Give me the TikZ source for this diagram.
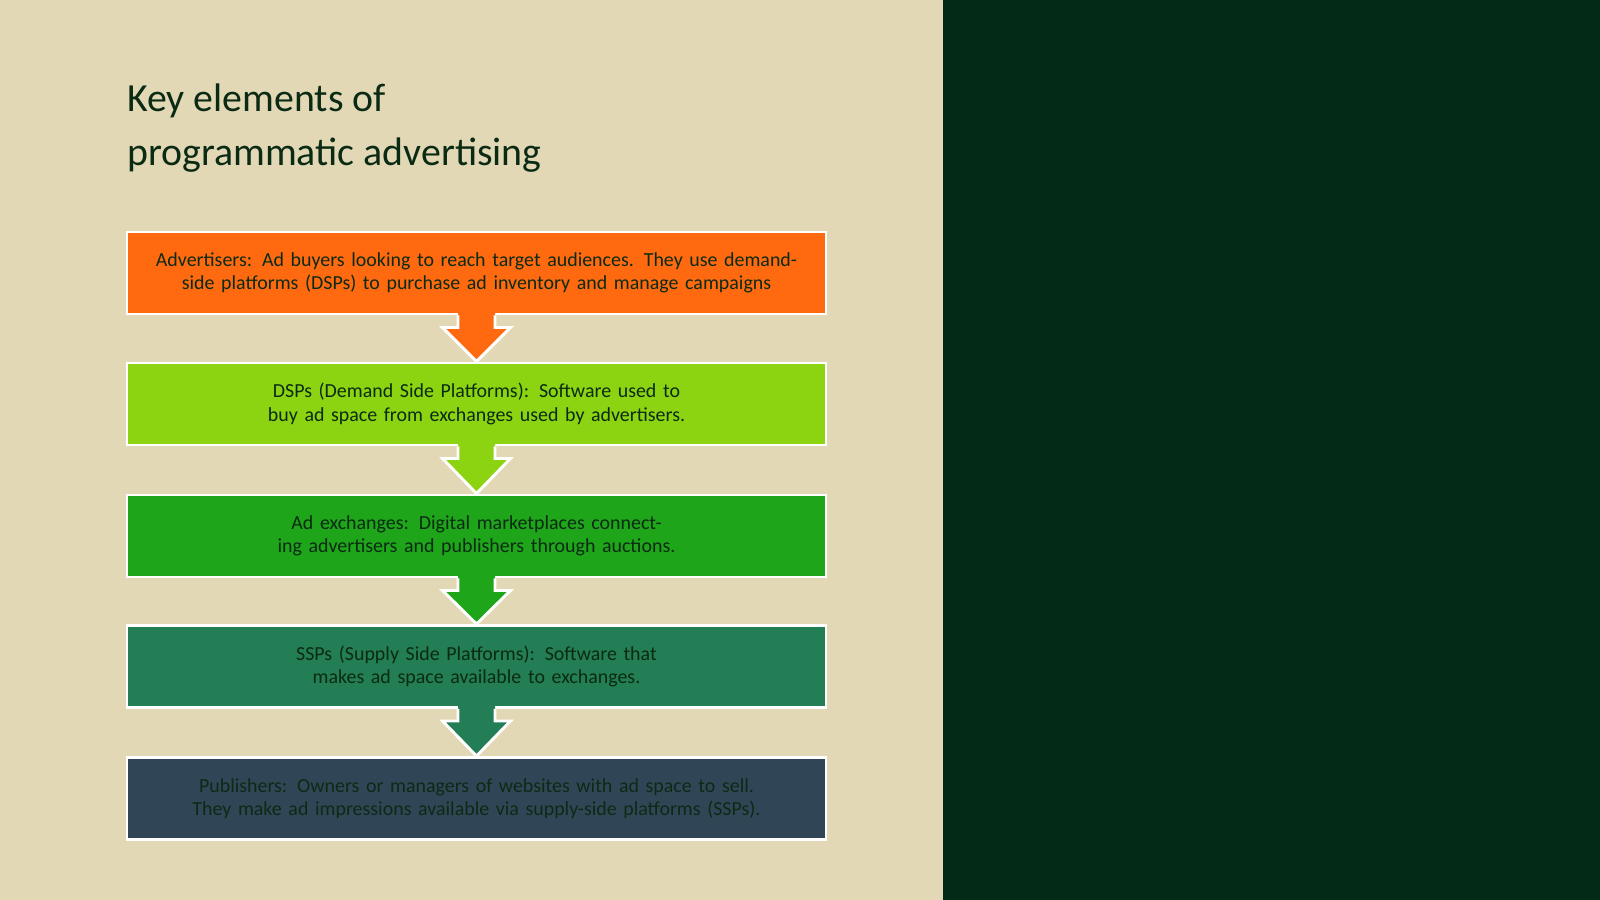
\documentclass[tikz,border=0pt]{standalone}
\usepackage{fontspec}
\setmainfont{Carlito}
\usetikzlibrary{calc}
\definecolor{beige}{HTML}{E2D8B5}
\definecolor{darkbg}{HTML}{032A16}
\definecolor{titlecol}{HTML}{0B2A14}
\definecolor{cA}{HTML}{FF6A10}
\definecolor{cB}{HTML}{8CD411}
\definecolor{cC}{HTML}{1EA51A}
\definecolor{cD}{HTML}{237E55}
\definecolor{cE}{HTML}{304656}
\tikzset{
  stagebox/.style={draw=white, line width=2.5pt, minimum width=20.97cm, minimum height=2.46cm,
    text width=19.8cm, align=center, font=\fontsize{17}{20}\selectfont, text=titlecol, inner sep=0pt},
}
\begin{document}
\begin{tikzpicture}[x=0.03cm, y=-0.03cm]
  \fill[beige] (0,0) rectangle (943,900);
  \fill[darkbg] (943,0) rectangle (1600,900);
  \node[anchor=north west, align=left, text=titlecol, font=\fontsize{34}{46}\selectfont] (title) at (123,80)
    {Key elements of\\programmatic advertising};
  \node[stagebox, fill=cA] (b1) at (476.5,273) {Advertisers: Ad buyers looking to reach target audiences. They use demand-side platforms (DSPs) to purchase ad inventory and manage campaigns};
  \node[stagebox, fill=cB] (b2) at (476.5,404) {DSPs (Demand Side Platforms): Software used to buy ad space from exchanges used by advertisers.};
  \node[stagebox, fill=cC] (b3) at (476.5,536) {Ad exchanges: Digital marketplaces connecting advertisers and publishers through auctions.};
  \node[stagebox, fill=cD] (b4) at (476.5,666.5) {SSPs (Supply Side Platforms): Software that makes ad space available to exchanges.};
  \node[stagebox, fill=cE] (b5) at (476.5,798.5) {Publishers: Owners or managers of websites with ad space to sell. They make ad impressions available via supply-side platforms (SSPs).};
  % arrows between the stages
  \foreach \a/\b/\c in {b1/b2/cA, b2/b3/cB, b3/b4/cC, b4/b5/cD}{
    \coordinate (s) at (\a.south);
    \coordinate (t) at (\b.north);
    \fill[\c] ($(s)+(-18.5,-4)$) -- ($(s)+(-18.5,12)$) -- ($(s)+(-34,12)$) -- (t)
      -- ($(s)+(34,12)$) -- ($(s)+(18.5,12)$) -- ($(s)+(18.5,-4)$) -- cycle;
    \draw[white, line width=2.5pt, line join=miter] ($(s)+(-18.5,0)$) -- ($(s)+(-18.5,12)$) -- ($(s)+(-34,12)$) -- (t)
      -- ($(s)+(34,12)$) -- ($(s)+(18.5,12)$) -- ($(s)+(18.5,0)$);
  }
\end{tikzpicture}
\end{document}
